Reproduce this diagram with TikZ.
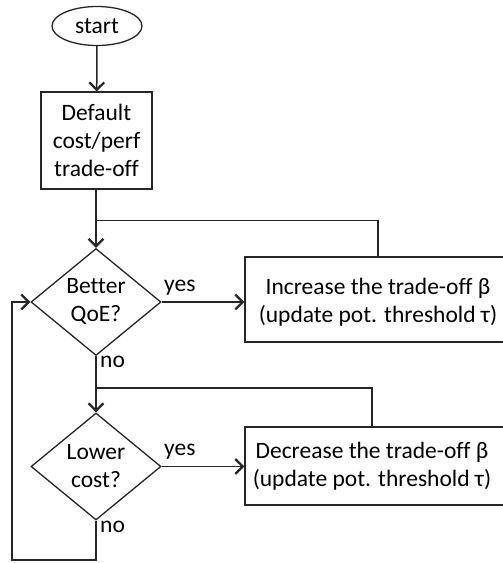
\documentclass[tikz,border=0pt]{standalone}
\usepackage{fontspec}
\setmainfont[Ligatures=NoCommon]{Carlito}
\usetikzlibrary{shapes.geometric,arrows.meta,calc}
\begin{document}
\begin{tikzpicture}[x=1pt,y=-1pt,
  line/.style={draw=black!85,line width=1.5pt},
  arr/.style={line,-{Straight Barb[length=7.5pt,width=15pt,line width=2.2pt]}},
  txt/.style={font=\fontsize{23.5}{28}\selectfont,text=black,align=center,inner sep=0pt},
  lbl/.style={font=\fontsize{23.5}{28}\selectfont,text=black,inner sep=0pt},
  oval/.style={ellipse,line width=1.3pt,draw=black!85,minimum width=90pt,minimum height=39pt,inner sep=0pt},
  stepbox/.style={rectangle,line width=1.3pt,draw=black!85,inner sep=0pt},
  dia/.style={diamond,line width=1.3pt,draw=black!85,minimum width=130pt,minimum height=107pt,inner sep=0pt}]
\useasboundingbox[fill=white] (0,0) rectangle (503,563);
\clip (0,0) rectangle (503,563);
\node[oval] (start) at (97,26) {};
\node[txt] at (start) {start};
\node[stepbox,minimum width=111pt,minimum height=97pt] (box1) at (96.5,140.5) {};
\node[txt] at (box1) {Default\\cost/perf\\trade-off};
\node[dia] (d1) at (96,302) {};
\node[txt] at (d1) {Better\\QoE?};
\node[stepbox,minimum width=266pt,minimum height=85pt] (box2) at (378,299.5) {};
\node[txt] at ([yshift=-3pt]box2.center) {Increase the trade-off β\\(update pot. threshold τ)};
\node[dia] (d2) at (96,466.5) {};
\node[txt] at (d2) {Lower\\cost?};
\node[stepbox,minimum width=266pt,minimum height=78pt] (box3) at (378,466) {};
\node[txt] at ([xshift=-6pt]box3.center) {Decrease the trade-off β\\(update pot. threshold τ)};
\coordinate (j1) at (96,220.5);
\coordinate (j2) at (96,388);
\coordinate (bl) at (12,560);
\node[lbl,anchor=west] (yes1) at (164,288) {yes};
\node[lbl,anchor=west] (no1) at (100,362) {no};
\node[lbl,anchor=west] (yes2) at (164,452) {yes};
\node[lbl,anchor=west] (no2) at (100,527) {no};
\draw[arr] (start) -- (box1);
\draw[arr] (box1.south -| j1) -- (d1.north);
\draw[line] (box2.north) |- (j1);
\draw[arr] (d1.east) -- (box2.west |- d1.east);
\draw[arr] (d1.south) -- (d2.north);
\draw[line] ([xshift=-6pt]box3.north) |- (j2);
\draw[arr] (d2.east) -- (box3.west |- d2.east);
\draw[arr] (d2.south) |- (bl) |- (d1.west);
\end{tikzpicture}
\end{document}
